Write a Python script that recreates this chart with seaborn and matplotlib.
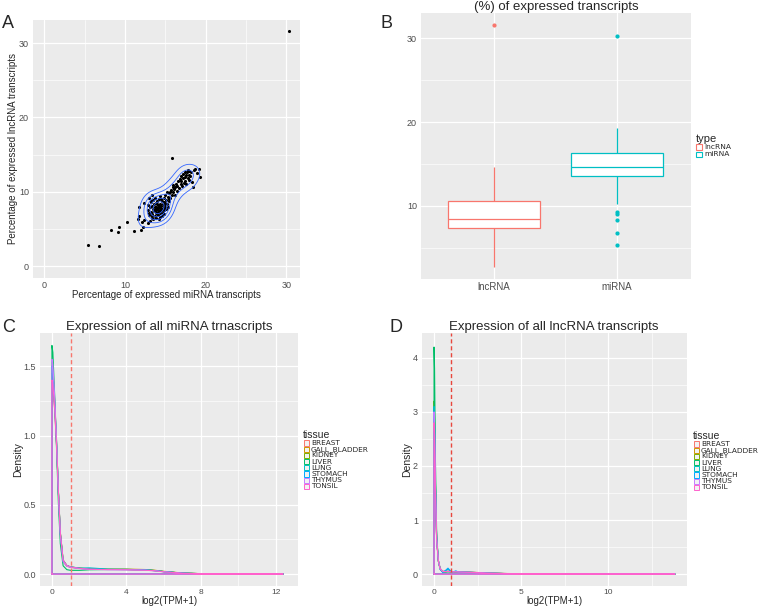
import numpy as np
import pandas as pd
import matplotlib
matplotlib.use("Agg")
import matplotlib.pyplot as plt
import seaborn as sns
from matplotlib.patches import Rectangle
from matplotlib.ticker import MultipleLocator, MaxNLocator

# ---------------- data ----------------
# Panel A / B: per-sample percentage of expressed transcripts
mirna_pct = [5.4, 6.8, 8.3, 9.1, 9.3, 10.2, 11.1, 12.0, 12.2, 11.6, 11.7, 11.8, 12.1, 12.3, 12.4,
             13.0, 13.2, 13.4, 12.8, 12.9, 12.9, 13.0, 13.0, 13.1, 13.1, 13.2, 13.2, 13.3, 13.3,
             13.4, 13.4, 13.5, 13.5, 13.5, 13.6, 13.6, 13.7, 13.7, 13.7, 13.8, 13.8, 13.9, 13.9,
             13.9, 14.0, 14.0, 14.0, 14.1, 14.1, 14.1, 14.2, 14.2, 14.2, 14.3, 14.3, 14.3, 14.4,
             14.4, 14.4, 14.5, 14.5, 14.6, 14.6, 14.6, 14.7, 14.7, 14.8, 14.8, 14.9, 14.9, 15.0,
             15.0, 15.1, 15.1, 15.2, 15.3, 15.3, 15.4, 15.5,
             14.0, 14.2, 14.5, 14.8, 15.0, 15.2, 15.6, 16.2, 14.6, 13.8, 14.9, 15.4,
             15.6, 15.7, 15.8, 15.8, 15.9, 16.0, 16.0, 16.1, 16.2, 16.3, 16.4, 16.5, 16.6, 16.7,
             16.8, 16.9, 17.0, 17.0, 17.1, 17.2, 17.2, 17.3, 17.4, 17.4, 17.5, 17.6, 17.6, 17.7,
             17.8, 17.8, 17.9, 18.0, 18.0, 18.1, 18.2, 18.3, 18.4, 18.5, 18.7, 19.2, 19.3, 18.9,
             30.3]
lncrna_pct = [2.8, 2.7, 4.9, 4.6, 5.2, 5.9, 4.7, 4.8, 5.3, 6.4, 7.9, 6.8, 5.9, 8.5, 6.2,
              7.2, 8.8, 6.5, 5.8, 7.6, 8.2, 6.9, 9.1, 6.1, 7.9, 7.3, 8.6, 6.7, 9.5,
              7.0, 8.1, 6.3, 7.7, 8.9, 7.4, 8.3, 6.8, 7.9, 9.2, 7.2, 8.5, 6.5, 7.6,
              8.0, 7.1, 7.8, 8.7, 6.9, 7.5, 8.2, 7.3, 7.9, 9.0, 6.6, 7.6, 8.4, 7.1,
              7.8, 9.4, 7.4, 8.1, 6.8, 7.7, 8.8, 7.2, 8.3, 7.9, 9.1, 7.5, 8.6, 8.0,
              9.6, 7.7, 8.9, 8.4, 9.3, 7.9, 8.7, 9.8,
              8.3, 6.4, 9.0, 7.0, 8.5, 9.9, 10.0, 10.6, 7.5, 7.7, 8.2, 9.0,
              9.1, 10.2, 9.6, 14.6, 10.6, 9.9, 10.9, 10.4, 9.5, 11.1, 10.1, 10.8, 11.4, 10.5,
              11.7, 11.0, 12.1, 11.4, 10.8, 11.8, 12.4, 11.2, 12.0, 12.7, 11.5, 12.2, 11.0, 12.6,
              11.9, 12.9, 12.3, 11.6, 12.8, 12.1, 12.6, 11.3, 10.6, 12.9, 13.1, 13.0, 12.0, 12.5,
              31.6]

types = ["lncRNA", "miRNA"]
type_colors = ["#F8766D", "#00BFC4"]

tissues = ["BREAST", "GALL_BLADDER", "KIDNEY", "LIVER", "LUNG", "STOMACH", "THYMUS", "TONSIL"]
tissue_colors = ["#F8766D", "#CD9600", "#7CAE00", "#00BE67", "#00BFC4", "#00A9FF", "#C77CFF", "#FF61CC"]

# Panel C: density of log2(TPM+1), miRNA
xs_c = [0, 0.05, 0.15, 0.25, 0.35, 0.45, 0.6, 0.8, 1.0, 1.5, 2.0, 3.0, 4.0, 5.0, 5.5, 6.0, 7.0, 8.0, 10.0, 12.4]
dens_c = [
    [1.35, 1.33, 1.18, 0.92, 0.58, 0.30, 0.10, 0.062, 0.052, 0.042, 0.037, 0.034, 0.033, 0.030, 0.026, 0.018, 0.007, 0.003, 0.001, 0.0],
    [1.50, 1.47, 1.25, 0.95, 0.58, 0.29, 0.09, 0.058, 0.049, 0.041, 0.038, 0.035, 0.036, 0.033, 0.028, 0.020, 0.008, 0.003, 0.001, 0.0],
    [1.45, 1.43, 1.22, 0.94, 0.59, 0.30, 0.10, 0.061, 0.051, 0.043, 0.038, 0.034, 0.033, 0.030, 0.025, 0.018, 0.007, 0.003, 0.001, 0.0],
    [1.65, 1.60, 1.28, 0.90, 0.50, 0.22, 0.06, 0.032, 0.027, 0.027, 0.031, 0.033, 0.034, 0.031, 0.026, 0.018, 0.007, 0.003, 0.001, 0.0],
    [1.40, 1.38, 1.20, 0.93, 0.59, 0.30, 0.10, 0.062, 0.052, 0.043, 0.045, 0.036, 0.034, 0.030, 0.025, 0.017, 0.006, 0.002, 0.001, 0.0],
    [1.50, 1.47, 1.24, 0.95, 0.58, 0.29, 0.09, 0.060, 0.050, 0.041, 0.036, 0.033, 0.032, 0.030, 0.025, 0.018, 0.007, 0.003, 0.001, 0.0],
    [1.55, 1.51, 1.27, 0.96, 0.58, 0.28, 0.09, 0.057, 0.048, 0.039, 0.034, 0.032, 0.031, 0.028, 0.024, 0.017, 0.006, 0.002, 0.001, 0.0],
    [1.40, 1.37, 1.19, 0.92, 0.58, 0.30, 0.10, 0.062, 0.051, 0.041, 0.035, 0.032, 0.031, 0.028, 0.024, 0.016, 0.006, 0.002, 0.001, 0.0],
]

# Panel D: density of log2(TPM+1), lncRNA
xs_d = [0, 0.03, 0.08, 0.15, 0.25, 0.35, 0.5, 0.65, 0.8, 0.95, 1.1, 1.25, 1.4, 1.7, 2.0, 2.5, 3.0, 4.0, 5.0, 6.0, 8.0, 10.0, 13.8]
dens_d = [
    [2.70, 2.50, 1.55, 0.62, 0.24, 0.10, 0.05, 0.045, 0.050, 0.045, 0.040, 0.042, 0.040, 0.038, 0.035, 0.030, 0.020, 0.012, 0.007, 0.003, 0.001, 0.0, 0.0],
    [3.00, 2.75, 1.65, 0.65, 0.24, 0.10, 0.05, 0.048, 0.052, 0.046, 0.042, 0.044, 0.041, 0.038, 0.034, 0.028, 0.019, 0.011, 0.006, 0.003, 0.001, 0.0, 0.0],
    [3.20, 2.90, 1.70, 0.66, 0.24, 0.10, 0.05, 0.046, 0.050, 0.044, 0.041, 0.043, 0.040, 0.037, 0.034, 0.028, 0.019, 0.011, 0.006, 0.003, 0.001, 0.0, 0.0],
    [4.20, 3.80, 2.10, 0.75, 0.24, 0.09, 0.04, 0.035, 0.040, 0.038, 0.036, 0.038, 0.036, 0.034, 0.031, 0.026, 0.018, 0.010, 0.006, 0.003, 0.001, 0.0, 0.0],
    [3.10, 2.85, 1.68, 0.66, 0.25, 0.10, 0.04, 0.060, 0.090, 0.055, 0.045, 0.050, 0.040, 0.037, 0.034, 0.028, 0.019, 0.011, 0.006, 0.003, 0.001, 0.0, 0.0],
    [3.00, 2.75, 1.62, 0.64, 0.24, 0.09, 0.03, 0.065, 0.110, 0.055, 0.040, 0.060, 0.038, 0.036, 0.033, 0.027, 0.018, 0.010, 0.006, 0.003, 0.001, 0.0, 0.0],
    [3.00, 2.75, 1.64, 0.65, 0.25, 0.10, 0.05, 0.047, 0.050, 0.045, 0.041, 0.043, 0.040, 0.037, 0.034, 0.028, 0.019, 0.011, 0.006, 0.003, 0.001, 0.0, 0.0],
    [2.80, 2.58, 1.56, 0.63, 0.24, 0.10, 0.05, 0.046, 0.049, 0.044, 0.040, 0.042, 0.039, 0.036, 0.033, 0.027, 0.018, 0.010, 0.006, 0.003, 0.001, 0.0, 0.0],
]

# ---------------- style ----------------
sns.set_theme(style="darkgrid", rc={"axes.facecolor": "#EBEBEB", "grid.color": "white",
                                     "axes.axisbelow": True})
plt.rcParams["font.family"] = ["Liberation Sans", "DejaVu Sans"]

W, H = 783, 606
fig = plt.figure(figsize=(W / 100, H / 100), dpi=100)
fig.patch.set_facecolor("white")


def px_axes(l, t, r, b):
    return fig.add_axes([l / W, 1 - b / H, (r - l) / W, (b - t) / H])


def style_ax(ax, xmaj, xmin, ymaj, ymin):
    for s in ax.spines.values():
        s.set_visible(False)
    if xmaj is not None:
        ax.xaxis.set_major_locator(MultipleLocator(xmaj))
        ax.xaxis.set_minor_locator(MultipleLocator(xmin))
    ax.yaxis.set_major_locator(MultipleLocator(ymaj))
    ax.yaxis.set_minor_locator(MultipleLocator(ymin))
    ax.grid(which="major", color="white", lw=0.9)
    ax.grid(which="minor", color="white", lw=0.45)
    ax.tick_params(which="major", length=2, width=0.5, color="#333333",
                   labelsize=6.5, labelcolor="#4D4D4D", pad=1)
    ax.tick_params(axis="x", which="major", pad=0.5)
    ax.tick_params(which="minor", length=0)


def px(x, y):
    return x / W, 1 - y / H


# ---------------- Panel A ----------------
axA = px_axes(33, 20, 300, 278)
sns.scatterplot(x=mirna_pct, y=lncrna_pct, ax=axA, color="black", s=5, linewidth=0, zorder=3)

# 2-D density contours computed like ggplot2's stat_density2d (MASS::kde2d, bandwidth.nrd)
mx = np.asarray(mirna_pct)
ly = np.asarray(lncrna_pct)


def bw_nrd(v):
    q1, q3 = np.percentile(v, [25, 75])
    return 4 * 1.06 * min(np.std(v, ddof=1), (q3 - q1) / 1.34) * len(v) ** (-0.2)


hx, hy = bw_nrd(mx) / 4, bw_nrd(ly) / 4
gx = np.linspace(mx.min(), mx.max(), 200)
gy = np.linspace(ly.min(), ly.max(), 200)
kx = np.exp(-0.5 * ((gx[:, None] - mx[None, :]) / hx) ** 2) / (hx * np.sqrt(2 * np.pi))
ky = np.exp(-0.5 * ((gy[:, None] - ly[None, :]) / hy) ** 2) / (hy * np.sqrt(2 * np.pi))
Z = (ky @ kx.T) / len(mx)
lv = MaxNLocator(nbins=10, steps=[1, 2, 5, 10]).tick_values(Z.min(), Z.max())
lv = lv[(lv > 0) & (lv < Z.max())]
axA.contour(gx, gy, Z, levels=lv, colors="#3366FF", linewidths=0.6, zorder=4)

axA.set_xlim(-1.4, 31.7)
axA.set_ylim(-1.6, 33.1)
style_ax(axA, 10, 5, 10, 5)
axA.set_xlabel("Percentage of expressed miRNA transcripts", fontsize=7, labelpad=0)
axA.set_ylabel("Percentage of expressed lncRNA transcripts", fontsize=7, labelpad=0.5)

# ---------------- Panel B ----------------
axB = px_axes(421, 13, 691, 279)
box_df = pd.DataFrame({"type": [types[0]] * len(lncrna_pct) + [types[1]] * len(mirna_pct),
                       "value": lncrna_pct + mirna_pct})
for t, c in zip(types, type_colors):
    sns.boxplot(data=box_df[box_df["type"] == t], x="type", y="value", order=types,
                color="white", linecolor=c, linewidth=0.9, width=0.75, showcaps=False,
                flierprops=dict(marker="o", markersize=2, markerfacecolor=c, markeredgecolor=c),
                ax=axB)
axB.set_xlim(-0.59, 1.6)
axB.set_ylim(1.3, 33.0)
style_ax(axB, None, None, 10, 5)
axB.set_xlabel("")
axB.set_ylabel("")
axB.tick_params(axis="x", labelsize=7)
fig.text(*px(556, 7), "(%) of expressed transcripts", fontsize=9.5, ha="center", va="center")

# legend B (manual, ggplot-like)
fig.text(*px(696, 139), "type", fontsize=8, ha="left", va="center")
for i, (t, c) in enumerate(zip(types, type_colors)):
    yk = 147 + i * 7.5
    fig.add_artist(Rectangle(px(696, yk + 2.5), 6 / W, 5 / H, transform=fig.transFigure,
                             facecolor="white", edgecolor=c, lw=0.8))
    fig.text(*px(704, yk), t, fontsize=5.4, ha="left", va="center", family="DejaVu Sans")

# ---------------- Panel C ----------------
BOT = 586
axC = px_axes(40, 333, 298, BOT)
for t, c, ys in zip(tissues, tissue_colors, dens_c):
    xp = [xs_c[0]] + xs_c + [xs_c[0]]
    yp = [0.0] + ys + [0.0]
    sns.lineplot(x=xp, y=yp, sort=False, estimator=None, color=c, lw=0.8, ax=axC)
axC.axvline(1, color="#F8766D", ls=(0, (3, 2)), lw=1.0, zorder=5)
axC.set_xlim(-0.64, 13.2)
axC.set_ylim(-0.086, 1.74)
style_ax(axC, 4, 2, 0.5, 0.25)
axC.tick_params(axis="x", labelsize=6, length=1.5, pad=0.3)
axC.set_xlabel("log2(TPM+1)", fontsize=7)
axC.xaxis.set_label_coords(0.5, -(596.5 - BOT) / (BOT - 333))
axC.set_ylabel("Density", fontsize=7.5, labelpad=0.5)
fig.text(*px(169, 327), "Expression of all miRNA trnascripts", fontsize=9.5, ha="center", va="center")

# ---------------- Panel D ----------------
axD = px_axes(422, 333, 687, BOT)
for t, c, ys in zip(tissues, tissue_colors, dens_d):
    xp = [xs_d[0]] + xs_d + [xs_d[0]]
    yp = [0.0] + ys + [0.0]
    sns.lineplot(x=xp, y=yp, sort=False, estimator=None, color=c, lw=0.8, ax=axD)
axD.axvline(1, color="#E8473D", ls=(0, (3, 2)), lw=1.0, zorder=5)
axD.set_xlim(-0.69, 14.5)
axD.set_ylim(-0.22, 4.46)
style_ax(axD, 5, 2.5, 1, 0.5)
axD.tick_params(axis="x", labelsize=6, length=1.5, pad=0.3)
axD.set_xlabel("log2(TPM+1)", fontsize=7)
axD.xaxis.set_label_coords(0.5, -(596.5 - BOT) / (BOT - 333))
axD.set_ylabel("Density", fontsize=7.5, labelpad=0.5)
fig.text(*px(554, 327), "Expression of all lncRNA transcripts", fontsize=9.5, ha="center", va="center")


# tissue legends (manual)
def tissue_legend(x0, y0):
    fig.text(*px(x0, y0), "tissue", fontsize=7.5, ha="left", va="center")
    for i, (t, c) in enumerate(zip(tissues, tissue_colors)):
        yk = y0 + 8 + i * 6.2
        fig.add_artist(Rectangle(px(x0 + 0.5, yk + 2.6), 5.5 / W, 5.2 / H, transform=fig.transFigure,
                                 facecolor="#F2F2F2", edgecolor=c, lw=0.7))
        fig.text(*px(x0 + 8, yk), t, fontsize=5.3, ha="left", va="center", family="DejaVu Sans")


tissue_legend(303, 435)
tissue_legend(693, 436)

# panel letters
for letter, (lx, ly_) in zip("ABCD", [(8, 24), (386, 24), (9, 327), (396, 327)]):
    fig.text(*px(lx, ly_), letter, fontsize=13, ha="center", va="center")

fig.savefig("out.png", dpi=100, facecolor="white")
